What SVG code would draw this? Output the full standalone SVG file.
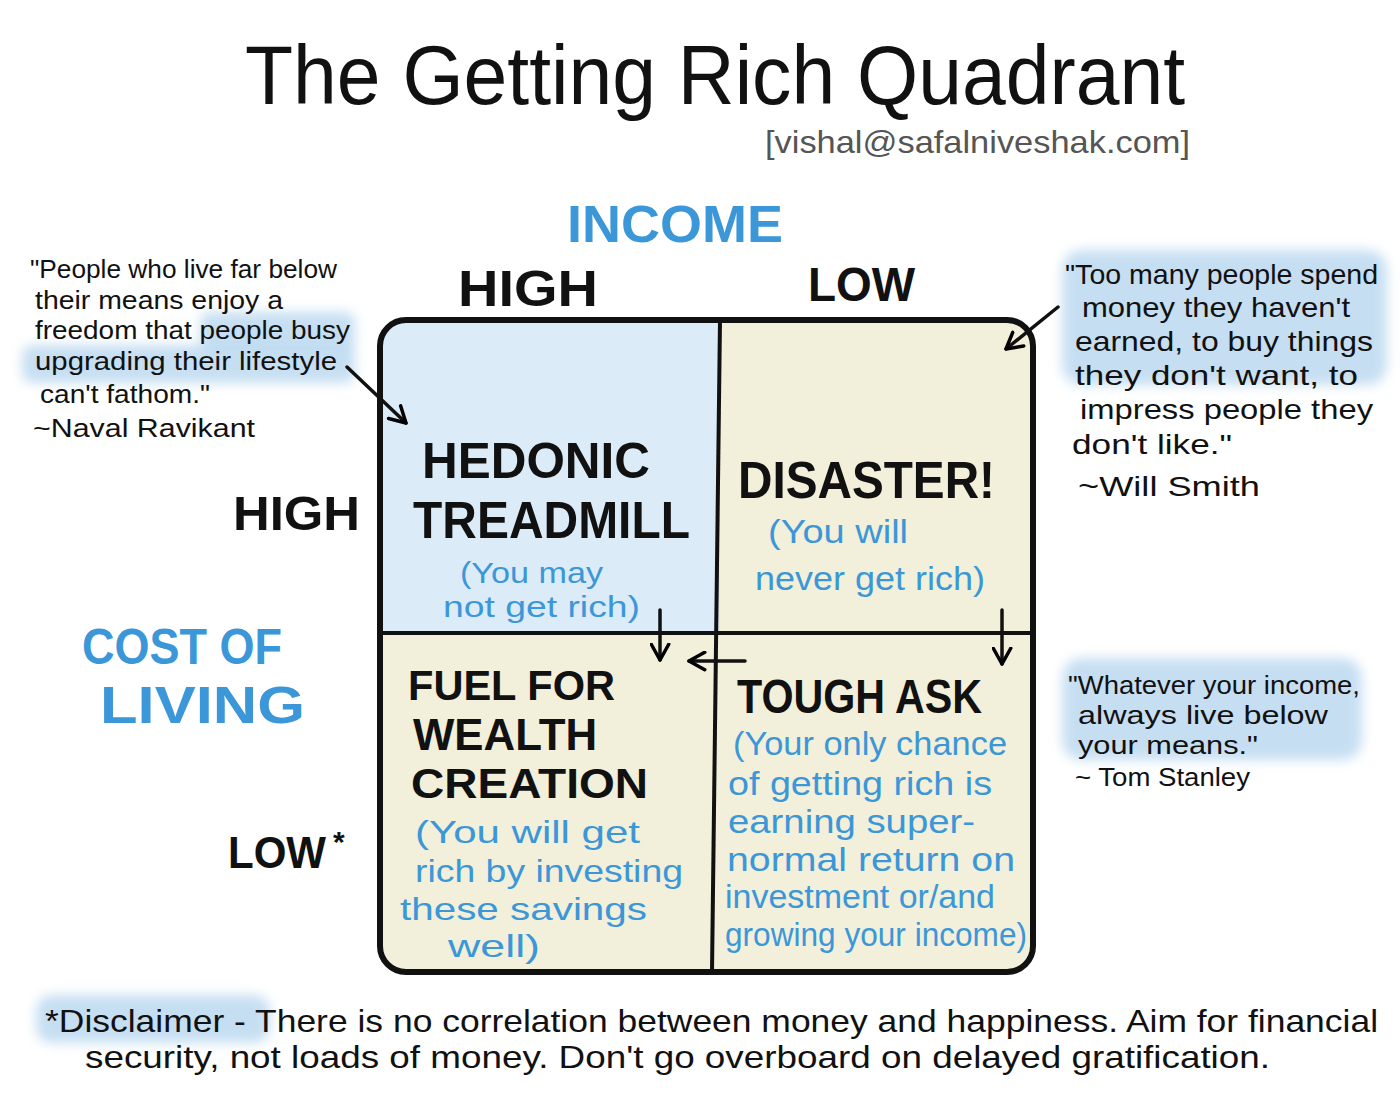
<svg xmlns="http://www.w3.org/2000/svg" width="1400" height="1094" viewBox="0 0 1400 1094">
<defs>
<filter id="soft" x="-20%" y="-40%" width="140%" height="180%"><feGaussianBlur stdDeviation="6"/></filter>
<marker id="chev" viewBox="0 0 12 12" refX="10" refY="6" markerWidth="6" markerHeight="6" orient="auto" markerUnits="strokeWidth">
<path d="M1,1 L10,6 L1,11" fill="none" stroke="#000" stroke-width="2" stroke-linecap="round" stroke-linejoin="round"/>
</marker>
</defs>
<style>
text{font-family:"Liberation Sans",Arial,sans-serif;}
.blk{fill:#111;}
.blu{fill:#3b97d8;}
.cap{font-weight:bold;}
.hl{fill:#b3d4ee;opacity:0.75;filter:url(#soft);}
.conn{fill:none;stroke:#111;stroke-width:3.5;stroke-linecap:round;marker-end:url(#chev);}
</style>
<rect width="1400" height="1094" fill="#fff"/>

<g id="title">
<text class="blk" x="245" y="104" font-size="84" textLength="940" lengthAdjust="spacingAndGlyphs">The Getting  Rich  Quadrant</text>
<text x="765" y="153" font-size="32" fill="#555" textLength="425" lengthAdjust="spacingAndGlyphs">[vishal@safalniveshak.com]</text>
</g>

<g id="axis-income">
<text class="blu cap" x="567" y="242" font-size="52" textLength="216" lengthAdjust="spacingAndGlyphs">INCOME</text>
<text class="blk cap" x="458" y="306" font-size="50" textLength="140" lengthAdjust="spacingAndGlyphs">HIGH</text>
<text class="blk cap" x="808" y="301" font-size="48" textLength="107" lengthAdjust="spacingAndGlyphs">LOW</text>
</g>

<g id="axis-cost">
<text class="blk cap" x="233" y="530" font-size="48" textLength="127" lengthAdjust="spacingAndGlyphs">HIGH</text>
<text class="blu cap" x="82" y="664" font-size="50" textLength="200" lengthAdjust="spacingAndGlyphs">COST OF</text>
<text class="blu cap" x="100" y="723" font-size="52" textLength="205" lengthAdjust="spacingAndGlyphs">LIVING</text>
<text class="blk cap" x="228" y="868" font-size="44" textLength="98" lengthAdjust="spacingAndGlyphs">LOW</text>
<text class="blk cap" x="333" y="852" font-size="30">*</text>
</g>

<g id="highlights">
<rect class="hl" x="200" y="312" width="155" height="40" rx="10"/>
<rect class="hl" x="22" y="345" width="333" height="38" rx="10"/>
<rect class="hl" x="1062" y="250" width="325" height="135" rx="20"/>
<rect class="hl" x="1062" y="658" width="300" height="102" rx="20"/>
<rect class="hl" x="36" y="995" width="234" height="48" rx="16"/>
</g>

<g id="quadrant-box">
<rect x="380" y="320" width="653" height="652" rx="26" fill="#f2efda"/>
<path d="M383,346 Q383,323 408,323 L720,323 L720,633 L383,633 Z" fill="#dbecf8"/>
<rect x="380" y="320" width="653" height="652" rx="26" fill="none" stroke="#111" stroke-width="6"/>
<line x1="720" y1="320" x2="712" y2="972" stroke="#111" stroke-width="4"/>
<line x1="380" y1="633" x2="1033" y2="633" stroke="#111" stroke-width="4"/>
</g>

<g id="q-hedonic">
<text class="blk cap" x="422" y="478" font-size="50" textLength="228" lengthAdjust="spacingAndGlyphs">HEDONIC</text>
<text class="blk cap" x="413" y="538" font-size="52" textLength="277" lengthAdjust="spacingAndGlyphs">TREADMILL</text>
<text class="blu" x="460" y="583" font-size="30" textLength="143" lengthAdjust="spacingAndGlyphs">(You may</text>
<text class="blu" x="443" y="617" font-size="30" textLength="197" lengthAdjust="spacingAndGlyphs">not get rich)</text>
</g>

<g id="q-disaster">
<text class="blk cap" x="738" y="498" font-size="52" textLength="257" lengthAdjust="spacingAndGlyphs">DISASTER!</text>
<text class="blu" x="768" y="543" font-size="34" textLength="140" lengthAdjust="spacingAndGlyphs">(You will</text>
<text class="blu" x="755" y="590" font-size="34" textLength="230" lengthAdjust="spacingAndGlyphs">never get rich)</text>
</g>

<g id="q-fuel">
<text class="blk cap" x="408" y="700" font-size="42" textLength="207" lengthAdjust="spacingAndGlyphs">FUEL FOR</text>
<text class="blk cap" x="413" y="750" font-size="44" textLength="184" lengthAdjust="spacingAndGlyphs">WEALTH</text>
<text class="blk cap" x="411" y="798" font-size="42" textLength="237" lengthAdjust="spacingAndGlyphs">CREATION</text>
<text class="blu" x="415" y="843" font-size="32" textLength="225" lengthAdjust="spacingAndGlyphs">(You will get</text>
<text class="blu" x="415" y="882" font-size="32" textLength="268" lengthAdjust="spacingAndGlyphs">rich by investing</text>
<text class="blu" x="400" y="920" font-size="32" textLength="247" lengthAdjust="spacingAndGlyphs">these savings</text>
<text class="blu" x="448" y="957" font-size="32" textLength="92" lengthAdjust="spacingAndGlyphs">well)</text>
</g>

<g id="q-tough">
<text class="blk cap" x="737" y="713" font-size="48" textLength="245" lengthAdjust="spacingAndGlyphs">TOUGH ASK</text>
<text class="blu" x="733" y="755" font-size="33" textLength="274" lengthAdjust="spacingAndGlyphs">(Your only chance</text>
<text class="blu" x="728" y="795" font-size="33" textLength="264" lengthAdjust="spacingAndGlyphs">of getting rich is</text>
<text class="blu" x="728" y="833" font-size="33" textLength="247" lengthAdjust="spacingAndGlyphs">earning super-</text>
<text class="blu" x="727" y="871" font-size="33" textLength="288" lengthAdjust="spacingAndGlyphs">normal return on</text>
<text class="blu" x="725" y="908" font-size="33" textLength="270" lengthAdjust="spacingAndGlyphs">investment or/and</text>
<text class="blu" x="725" y="946" font-size="33" textLength="302" lengthAdjust="spacingAndGlyphs">growing your income)</text>
</g>

<g id="quote-naval">
<text class="blk" x="30" y="278" font-size="26" textLength="307" lengthAdjust="spacingAndGlyphs">"People who live far below</text>
<text class="blk" x="35" y="309" font-size="26" textLength="248" lengthAdjust="spacingAndGlyphs">their means enjoy a</text>
<text class="blk" x="35" y="339" font-size="26" textLength="315" lengthAdjust="spacingAndGlyphs">freedom that people busy</text>
<text class="blk" x="35" y="370" font-size="26" textLength="302" lengthAdjust="spacingAndGlyphs">upgrading their lifestyle</text>
<text class="blk" x="40" y="403" font-size="26" textLength="170" lengthAdjust="spacingAndGlyphs">can't fathom."</text>
<text class="blk" x="33" y="437" font-size="26" textLength="222" lengthAdjust="spacingAndGlyphs">~Naval Ravikant</text>
</g>

<g id="quote-smith">
<text class="blk" x="1065" y="284" font-size="28" textLength="313" lengthAdjust="spacingAndGlyphs">"Too many people spend</text>
<text class="blk" x="1082" y="317" font-size="28" textLength="268" lengthAdjust="spacingAndGlyphs">money they haven't</text>
<text class="blk" x="1075" y="351" font-size="28" textLength="298" lengthAdjust="spacingAndGlyphs">earned, to buy things</text>
<text class="blk" x="1075" y="385" font-size="28" textLength="283" lengthAdjust="spacingAndGlyphs">they don't want, to</text>
<text class="blk" x="1080" y="419" font-size="28" textLength="293" lengthAdjust="spacingAndGlyphs">impress people they</text>
<text class="blk" x="1072" y="454" font-size="28" textLength="160" lengthAdjust="spacingAndGlyphs">don't like."</text>
<text class="blk" x="1078" y="496" font-size="28" textLength="182" lengthAdjust="spacingAndGlyphs">~Will Smith</text>
</g>

<g id="quote-stanley">
<text class="blk" x="1068" y="694" font-size="26" textLength="292" lengthAdjust="spacingAndGlyphs">"Whatever your income,</text>
<text class="blk" x="1078" y="724" font-size="26" textLength="250" lengthAdjust="spacingAndGlyphs">always live below</text>
<text class="blk" x="1078" y="754" font-size="26" textLength="180" lengthAdjust="spacingAndGlyphs">your means."</text>
<text class="blk" x="1075" y="786" font-size="26" textLength="175" lengthAdjust="spacingAndGlyphs">~ Tom Stanley</text>
</g>

<g id="disclaimer">
<text class="blk" x="45" y="1032" font-size="32" textLength="1333" lengthAdjust="spacingAndGlyphs">*Disclaimer - There is no correlation between money and happiness. Aim for financial</text>
<text class="blk" x="85" y="1068" font-size="32" textLength="1185" lengthAdjust="spacingAndGlyphs">security, not loads of money. Don't go overboard on delayed gratification.</text>
</g>

<g id="connectors">
<path class="conn" d="M347,367 L406,423"/>
<path class="conn" d="M1058,307 L1006,349"/>
<path class="conn" d="M660,610 L660,660"/>
<path class="conn" d="M1002,610 L1002,664"/>
<path class="conn" d="M745,661 L689,661"/>
</g>
</svg>
